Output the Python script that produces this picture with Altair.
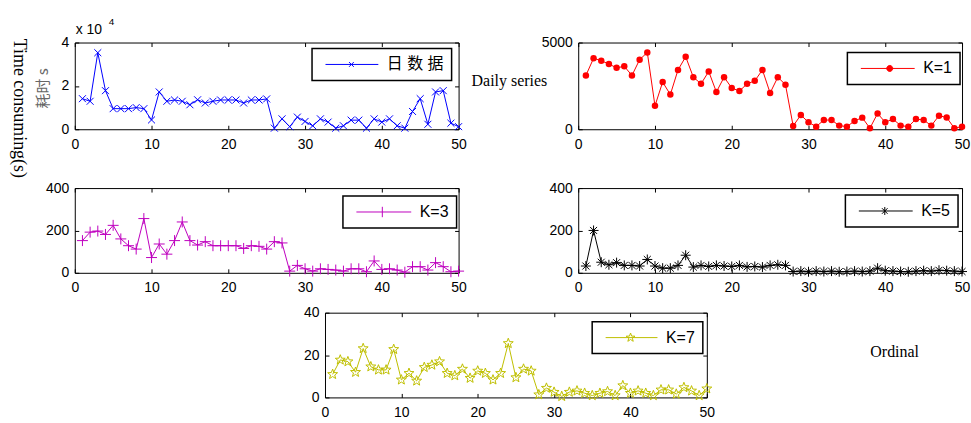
import math
import altair as alt
import pandas as pd

# ---------------- data ----------------
ordinal = list(range(1, 51))
daily_x1e4 = [1.41, 1.29, 3.53, 1.78, 0.95, 0.95, 0.95, 1.00, 0.95, 0.43,
              1.72, 1.29, 1.35, 1.29, 1.13, 1.36, 1.21, 1.29, 1.35, 1.35,
              1.35, 1.21, 1.35, 1.35, 1.40, 0.05, 0.48, 0.12, 0.56, 0.36,
              0.16, 0.48, 0.33, 0.05, 0.16, 0.42, 0.42, 0.05, 0.48, 0.33,
              0.48, 0.16, 0.05, 0.82, 1.41, 0.23, 1.72, 1.78, 0.28, 0.12]
k1 = [3100, 4090, 3950, 3760, 3540, 3630, 3100, 4010, 4430, 1350,
      2720, 2000, 3420, 4180, 3000, 2620, 3330, 2150, 3000, 2380,
      2200, 2620, 2790, 3420, 2090, 3000, 2570, 190, 820, 400,
      150, 530, 530, 210, 150, 480, 670, 60, 910, 400,
      590, 210, 150, 590, 530, 210, 780, 680, 60, 150]
k3 = [152, 192, 197, 181, 224, 160, 128, 112, 256, 72,
      136, 88, 152, 240, 152, 131, 147, 128, 128, 128,
      128, 115, 128, 125, 112, 147, 141, 8, 35, 19,
      8, 19, 16, 13, 8, 19, 19, 5, 56, 16,
      19, 13, 3, 29, 29, 13, 48, 29, 5, 8]
k5 = [32, 200, 50, 38, 48, 35, 35, 32, 63, 32,
      22, 22, 35, 83, 27, 35, 30, 35, 32, 30,
      35, 28, 30, 27, 35, 38, 35, 6, 8, 5,
      8, 6, 8, 5, 6, 8, 6, 8, 22, 10,
      8, 6, 5, 8, 10, 8, 12, 10, 8, 6]
k7 = [10.9, 17.7, 16.9, 11.9, 23.1, 14.5, 13.0, 13.0, 22.7, 8.3,
      11.4, 7.8, 14.2, 15.3, 16.9, 11.4, 10.3, 13.4, 9.1, 12.5,
      11.4, 8.3, 11.4, 25.5, 9.4, 13.4, 12.5, 1.3, 4.4, 2.5,
      0.5, 2.5, 3.1, 2.0, 0.9, 2.0, 2.8, 0.9, 5.6, 2.0,
      3.1, 2.0, 0.9, 3.6, 3.6, 1.6, 4.7, 3.1, 0.9, 4.1]

series_names = ["日 数 据", "K=1", "K=3", "K=5", "K=7"]
series_colors = ["#0000FF", "#FF0000", "#BF00BF", "#000000", "#BFBF00"]
x_ticks = [0, 10, 20, 30, 40, 50]

SANS = "Liberation Sans, Arial, Noto Sans CJK SC"
SERIF = "Liberation Serif, Times New Roman"
CJK = "Noto Sans CJK SC"


# ---------------- marker geometry ----------------
def star_pts(cx, cy, R, r):
    pts = []
    for i in range(10):
        a = -math.pi / 2 + i * math.pi / 5
        rad = R if i % 2 == 0 else r
        pts.append((cx + rad * math.cos(a), cy + rad * math.sin(a)))
    return "M" + "L".join(f"{x:.3f},{y:.3f}" for x, y in pts) + "Z"


X_PATH = "M-1,-1L1,1M-1,1L1,-1"
PLUS_PATH = "M-1,0H1M0,-1V1"
AST_PATH = "M-1,0H1M0,-1V1M-0.7,-0.7L0.7,0.7M-0.7,0.7L0.7,-0.7"
STAR_PATH = star_pts(0, 0, 1.0, 0.42)


def legend_path(L, m, kind):
    u = 4.0  # px per path unit for symbolSize 64
    x0 = -2.5 / u
    x1 = x0 + L / u
    cx = x0 + m / u
    p = f"M{x0:.3f},0H{x1:.3f}"
    if kind == "x":
        d = 0.6
        p += f"M{cx-d:.3f},{-d}L{cx+d:.3f},{d}M{cx-d:.3f},{d}L{cx+d:.3f},{-d}"
    elif kind == "dot":
        r = 0.75
        p += (f"M{cx-r:.3f},0A{r},{r} 0 1,0 {cx+r:.3f},0"
              f"A{r},{r} 0 1,0 {cx-r:.3f},0Z")
    elif kind == "plus":
        d = 1.3
        p += f"M{cx:.3f},{-d}V{d}"
    elif kind == "ast":
        d = 1.0
        e = 0.7
        p += (f"M{cx:.3f},{-d}V{d}M{cx-e:.3f},{-e}L{cx+e:.3f},{e}"
              f"M{cx-e:.3f},{e}L{cx+e:.3f},{-e}")
    elif kind == "star":
        p += star_pts(cx, 0, 1.15, 0.47)
    return p


def text_layer(txt, x, y, font, size, angle=0, color="black", align="center",
               baseline="middle"):
    return alt.Chart(pd.DataFrame({"label": [txt]})).mark_text(
        font=font, fontSize=size, angle=angle, color=color, align=align,
        baseline=baseline,
    ).encode(text="label:N", x=alt.value(x), y=alt.value(y))


def anchor(x, y):
    # invisible white dot that fixes the layout bounds of a panel
    return text_layer(".", x, y, SANS, 6, color="white", align="left",
                      baseline="top")


def panel(idx, values, ymax, yticks, shape, size, filled, leg_kind, L, m,
          leg_x, leg_y, w, h, extra=()):
    name = series_names[idx]
    color = series_colors[idx]
    df = pd.DataFrame({"t": ordinal, "v": values, "s": [name] * len(values)})
    base = alt.Chart(df).encode(
        x=alt.X("t:Q", scale=alt.Scale(domain=[0, 50], nice=False),
                axis=alt.Axis(values=x_ticks, title=None, grid=True,
                              gridDash=[4, h - 8, 4, 3000], gridColor="black",
                              gridWidth=1, gridOpacity=1, ticks=False,
                              domain=False, labelFont=SANS, labelFontSize=14,
                              labelColor="black", labelPadding=8,
                              labelFlush=False, labelOverlap=False)),
        y=alt.Y("v:Q", scale=alt.Scale(domain=[0, ymax], nice=False),
                axis=alt.Axis(values=yticks, title=None, grid=True, format="d",
                              gridDash=[4, w - 8, 4, 3000], gridColor="black",
                              gridWidth=1, gridOpacity=1, ticks=False,
                              domain=False, labelFont=SANS, labelFontSize=14,
                              labelColor="black", labelPadding=6,
                              labelOverlap=False)),
    )
    line = base.mark_line(color=color, strokeWidth=1)
    pts = base.mark_point(shape=shape, size=size, filled=filled, opacity=1,
                          strokeWidth=1).encode(
        color=alt.Color(
            "s:N", scale=alt.Scale(domain=[name], range=[color]),
            legend=alt.Legend(
                title=None, orient="none", legendX=leg_x, legendY=leg_y,
                symbolType=legend_path(L, m, leg_kind), symbolSize=64,
                symbolStrokeWidth=1, symbolStrokeColor=color,
                labelOffset=L - 2, labelFont=SANS,
                labelFontSize=16, labelColor="black", padding=8,
                strokeColor="black", fillColor="white",
            ),
        )
    )
    return alt.layer(line, pts, *extra).properties(width=w, height=h)


W = 385
p1 = panel(0, daily_x1e4, 4, [0, 2, 4], X_PATH, 49, False, "x", 53, 26,
           238, 6, W, 87,
           extra=[
               anchor(-66, -27),
               text_layer("Time consuming(s)", -56, 66, SERIF, 18, angle=90),
               text_layer("耗时 s", -32, 46, CJK, 15, angle=270, color="#666666"),
               text_layer("x 10", 1, -13, SANS, 14, align="left"),
               text_layer("4", 34, -21, SANS, 10, align="left"),
           ])
p2 = panel(1, k1, 5000, [0, 5000], "circle", 42, True, "dot", 54, 29,
           270, 10, W, 87,
           extra=[anchor(0, -27),
                  text_layer("Daily series", -107, 39, SERIF, 16, align="left")])
p3 = panel(2, k3, 400, [0, 200, 400], PLUS_PATH, 121, False, "plus", 55, 26,
           269, 8, W, 85, extra=[anchor(-66, -8)])
p4 = panel(3, k5, 400, [0, 200, 400], AST_PATH, 100, False, "ast", 54, 26,
           268, 7, W, 85, extra=[anchor(0, -8)])
p5 = panel(4, k7, 40, [0, 20, 40], STAR_PATH, 110, False, "star", 52, 25,
           268, 9, 383, 85,
           extra=[anchor(0, -8),
                  text_layer("Ordinal", 547, 39, SERIF, 16, align="left")])

spacer = alt.layer(anchor(-66, -8)).properties(
    width=227, height=85, view=alt.ViewBackground(stroke="transparent"))

row1 = alt.hconcat(p1, p2, spacing=3).resolve_scale(
    color="independent").resolve_legend(color="independent")
row2 = alt.hconcat(p3, p4, spacing=81).resolve_scale(
    color="independent").resolve_legend(color="independent")
row3 = alt.hconcat(spacer, p5, spacing=0).resolve_scale(
    color="independent").resolve_legend(color="independent")
top = alt.vconcat(row1, row2, spacing=0).resolve_scale(
    color="independent").resolve_legend(color="independent")

chart = alt.vconcat(top, row3, spacing=8).resolve_scale(
    color="independent").resolve_legend(color="independent").properties(
    padding={"left": 8, "top": 14, "right": 0, "bottom": 0},
    background="white",
).configure_view(stroke="black", strokeWidth=1).configure_legend(
    strokeWidth=1.5
)

chart.save("out.html", embed_options={"renderer": "svg", "actions": False})
